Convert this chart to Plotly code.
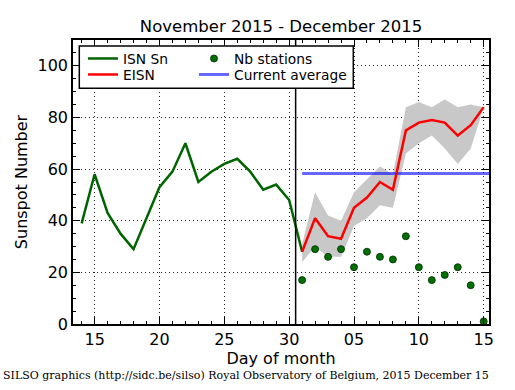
import plotly.graph_objects as go

# ---- data ----
isn_dates = ["2015-11-14", "2015-11-15", "2015-11-16", "2015-11-17", "2015-11-18",
             "2015-11-19", "2015-11-20", "2015-11-21", "2015-11-22", "2015-11-23",
             "2015-11-24", "2015-11-25", "2015-11-26", "2015-11-27", "2015-11-28",
             "2015-11-29", "2015-11-30", "2015-12-01"]
isn_values = [39, 58, 43, 35, 29, 41, 53, 59, 70, 55, 59, 62, 64, 59, 52, 54, 48, 28]

eisn_dates = ["2015-12-01", "2015-12-02", "2015-12-03", "2015-12-04", "2015-12-05",
              "2015-12-06", "2015-12-07", "2015-12-08", "2015-12-09", "2015-12-10",
              "2015-12-11", "2015-12-12", "2015-12-13", "2015-12-14", "2015-12-15"]
eisn_values = [28, 41, 34, 33, 45, 49, 55, 52, 75, 78, 79, 78, 73, 77, 84]
eisn_upper = [31, 51, 42, 40, 51, 56, 61, 58, 84, 86, 84, 87, 84, 85, 84]
eisn_lower = [24, 30, 26, 26, 38, 41, 46, 45, 66, 70, 73, 68, 62, 68, 84]
nb_stations = [17, 29, 26, 29, 22, 28, 26, 25, 34, 22, 17, 19, 22, 15, 1]

avg_dates = ["2015-12-01", "2015-12-16"]
avg_values = [58.3, 58.3]

x_range = ["2015-11-13 08:00", "2015-12-15 09:50"]
y_range = [0, 110]
split_date = "2015-11-30 12:00"

FONT = "DejaVu Sans"

fig = go.Figure()

# uncertainty band
fig.add_trace(go.Scatter(
    x=eisn_dates + eisn_dates[::-1],
    y=eisn_upper + eisn_lower[::-1],
    fill="toself", fillcolor="#c8c8c8", line=dict(width=0),
    mode="lines", showlegend=False, hoverinfo="skip"))

# current average
fig.add_trace(go.Scatter(
    x=avg_dates, y=avg_values, mode="lines",
    line=dict(color="rgba(0,0,255,0.6)", width=3),
    name="Current average", legend="legend4"))

# ISN Sn
fig.add_trace(go.Scatter(
    x=isn_dates, y=isn_values, mode="lines",
    line=dict(color="#006400", width=2.5),
    name="ISN Sn", legend="legend"))

# EISN
fig.add_trace(go.Scatter(
    x=eisn_dates, y=eisn_values, mode="lines",
    line=dict(color="#ff0000", width=2.5),
    name="EISN", legend="legend2"))

# Nb stations
fig.add_trace(go.Scatter(
    x=eisn_dates, y=nb_stations, mode="markers",
    marker=dict(color="#007000", size=7, line=dict(color="#002800", width=0.8)),
    name="Nb stations", legend="legend3", cliponaxis=False))

# plot area pixel geometry
W, H = 515, 390
ML, MR, MT, MB = 73, 26, 40, 66
PW, PH = W - ML - MR, H - MT - MB


def px(xp):
    return (xp - ML) / PW


def py(yp):
    return (H - MB - yp) / PH


leg_common = dict(bgcolor="rgba(0,0,0,0)", borderwidth=0,
                  font=dict(family=FONT, size=13.8, color="black"),
                  xanchor="left", yanchor="middle")

fig.update_layout(
    width=W, height=H,
    margin=dict(l=ML, r=MR, t=MT, b=MB),
    paper_bgcolor="white", plot_bgcolor="white",
    font=dict(family=FONT, size=16, color="black"),
    title=dict(text="November 2015 - December 2015", x=0.5, xref="paper",
               xanchor="center", y=1 - 26 / H, yref="container", yanchor="middle",
               font=dict(family=FONT, size=16.5, color="black")),
    legend=dict(x=px(83), y=py(58.5), **leg_common),
    legend2=dict(x=px(83), y=py(74.5), **leg_common),
    legend3=dict(x=px(194), y=py(58.5), **leg_common),
    legend4=dict(x=px(194), y=py(74.5), **leg_common),
    showlegend=True,
)

fig.update_xaxes(
    type="date", range=x_range,
    tick0="2015-11-15", dtick=5 * 86400000, tickformat="%d",
    ticks="inside", ticklen=7, tickwidth=1, tickcolor="black",
    minor=dict(dtick=86400000, tick0="2015-11-15", ticks="inside", ticklen=3.5,
               tickcolor="black", showgrid=False),
    showline=True, linecolor="black", linewidth=1.5, mirror="allticks",
    showgrid=True, gridcolor="rgba(0,0,0,0.85)", gridwidth=1, griddash="1px,3px",
    zeroline=False,
    tickfont=dict(family=FONT, size=16, color="black"),
    title=dict(text="Day of month", standoff=5,
               font=dict(family=FONT, size=16, color="black")),
)
fig.update_yaxes(
    range=y_range, dtick=20, tick0=0,
    ticks="inside", ticklen=7, tickwidth=1, tickcolor="black",
    minor=dict(dtick=5, ticks="inside", ticklen=3.5, tickcolor="black", showgrid=False),
    showline=True, linecolor="black", linewidth=1.5, mirror="allticks",
    showgrid=True, gridcolor="rgba(0,0,0,0.85)", gridwidth=1, griddash="1px,3px",
    zeroline=False,
    tickfont=dict(family=FONT, size=16, color="black"),
    title=dict(text="Sunspot Number", standoff=6,
               font=dict(family=FONT, size=16, color="black")),
)

# separation line between definitive and estimated data
fig.add_shape(type="line", xref="x", yref="paper", x0=split_date, x1=split_date,
              y0=0, y1=1, line=dict(color="black", width=1.5), layer="above")

# legend frame
fig.add_shape(type="rect", xref="paper", yref="paper",
              x0=px(79.3), x1=px(353.3), y0=py(88.3), y1=py(46),
              fillcolor="white", line=dict(color="black", width=1.5), layer="above")

# footer
fig.add_annotation(
    text="SILSO graphics (http://sidc.be/silso) Royal Observatory of Belgium, 2015 December 15",
    xref="paper", yref="paper", x=px(1), y=py(375.5), xanchor="left", yanchor="middle",
    showarrow=False, font=dict(family="DejaVu Serif", size=11, color="black"))

fig.write_html("out.html", config={"displayModeBar": False},
               post_script="document.body.style.margin='0';document.body.style.padding='0';")
